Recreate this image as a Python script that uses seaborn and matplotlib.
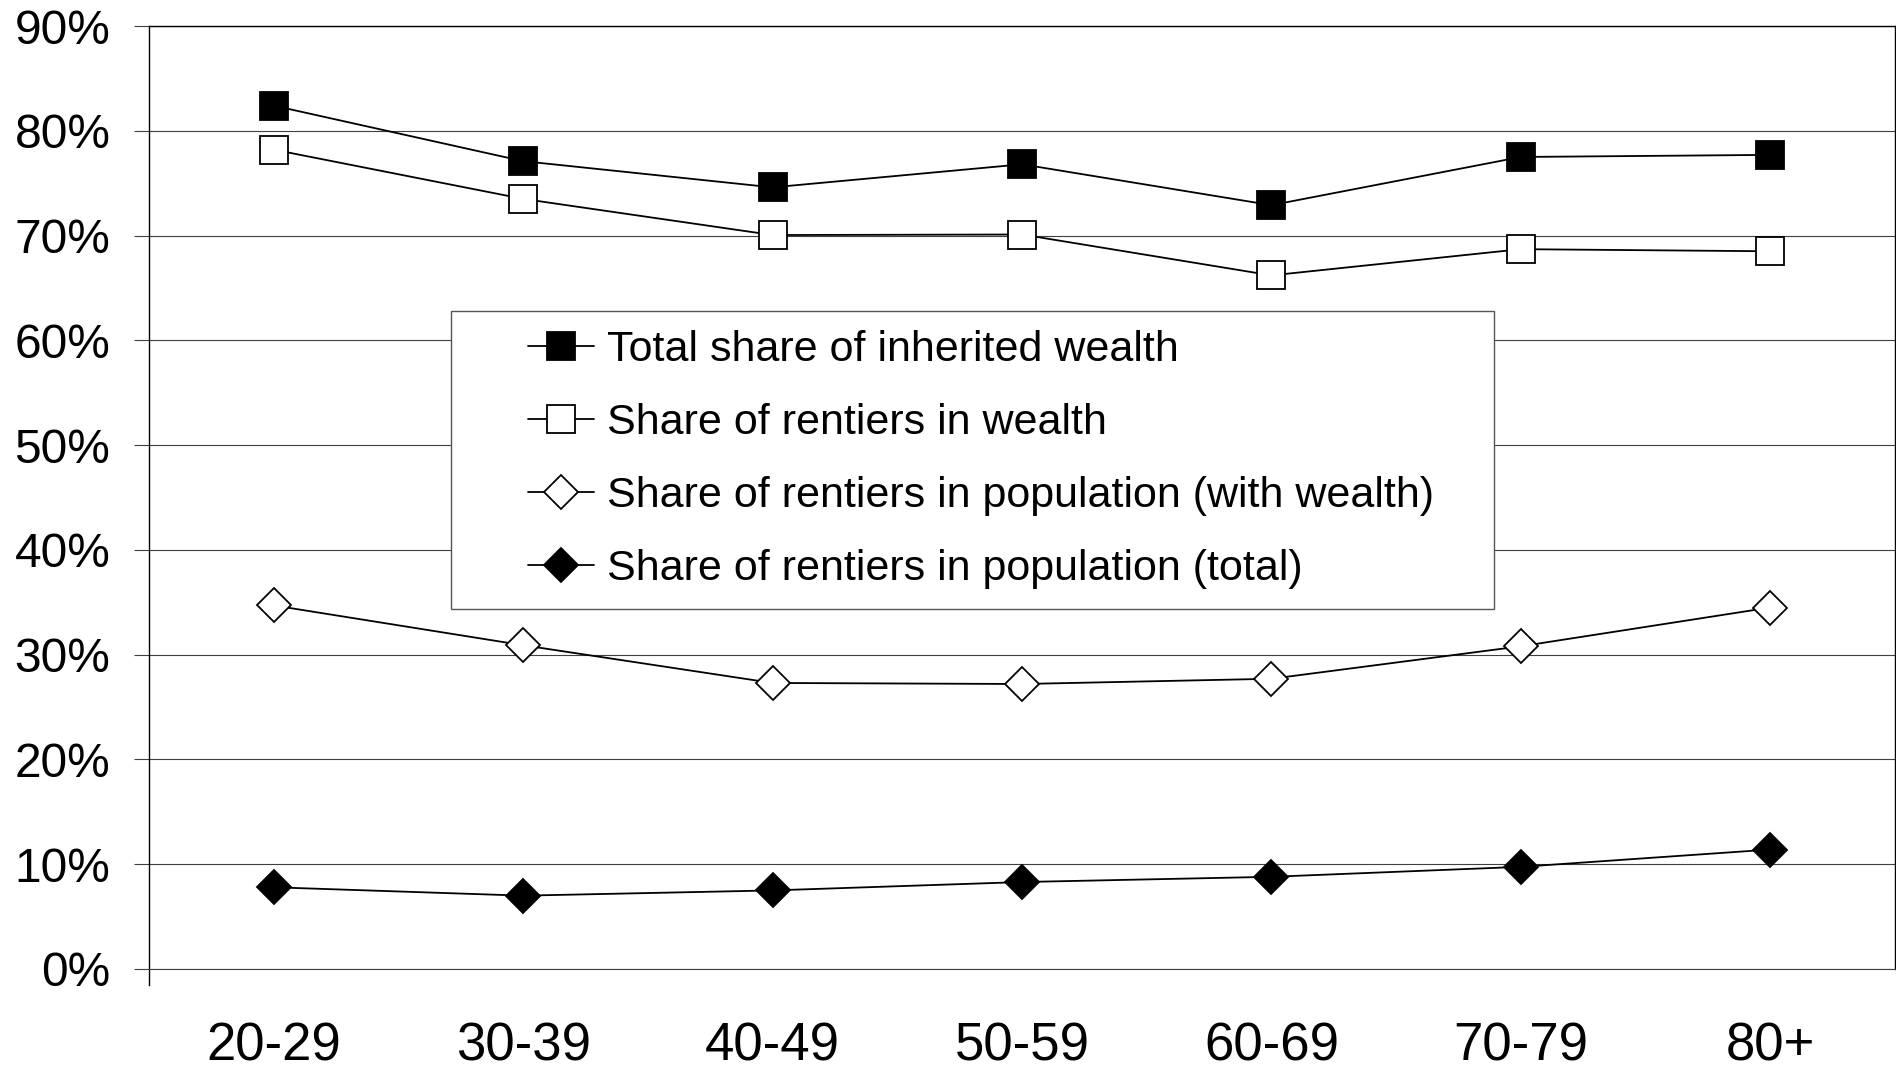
import matplotlib
matplotlib.use('Agg')
import matplotlib.pyplot as plt
from matplotlib.legend_handler import HandlerLine2D
from matplotlib.ticker import FuncFormatter, MultipleLocator
import seaborn as sns

# age groups on the x axis
age_groups = ['20-29', '30-39', '40-49', '50-59', '60-69', '70-79', '80+']

# values in percent
inherited_total = [82.4, 77.1, 74.6, 76.8, 72.9, 77.5, 77.7]
rentiers_wealth = [78.2, 73.5, 70.05, 70.1, 66.2, 68.7, 68.5]
rentiers_pop_with_wealth = [34.7, 30.9, 27.3, 27.2, 27.7, 30.8, 34.5]
rentiers_pop_total = [7.8, 7.0, 7.5, 8.3, 8.8, 9.75, 11.4]

series_names = [
    'Total share of inherited wealth',
    'Share of rentiers in wealth',
    'Share of rentiers in population (with wealth)',
    'Share of rentiers in population (total)',
]
series_values = [inherited_total, rentiers_wealth, rentiers_pop_with_wealth, rentiers_pop_total]
markers = ['s', 's', 'D', 'D']
fills = ['black', 'white', 'white', 'black']
sizes = [20, 20, 17, 17]

sns.set_style('white')
plt.rcParams['font.family'] = ['Liberation Sans', 'DejaVu Sans']
plt.rcParams['text.color'] = 'black'

W, H = 1896, 1070
fig = plt.figure(figsize=(W / 100, H / 100), dpi=100)
ax = fig.add_axes([149 / W, 1 - 969 / H, (1895 - 149) / W, (969 - 26) / H])

for name, vals, mk, fc, ms in zip(series_names, series_values, markers, fills, sizes):
    sns.lineplot(x=age_groups, y=vals, ax=ax, color='black', lw=1.3,
                 marker=mk, markersize=ms, markerfacecolor=fc,
                 markeredgecolor='black', markeredgewidth=1.3,
                 label=name, legend=False)

ax.set_xlim(-0.5, 6.5)
ax.set_ylim(0, 90)
ax.yaxis.set_major_locator(MultipleLocator(10))
ax.yaxis.set_major_formatter(FuncFormatter(lambda v, p: f'{v:.0f}%'))
ax.set_xlabel('')
ax.set_ylabel('')

ax.set_axisbelow(True)
ax.yaxis.grid(True, color='#404040', lw=0.8)
ax.xaxis.grid(False)
ax.tick_params(axis='y', length=10.8, width=0.8, color='#404040', pad=17,
               labelsize=34.5, left=True, labelcolor='black')
ax.tick_params(axis='x', length=0, pad=38, labelsize=38, labelcolor='black')

for side in ['left', 'right', 'top']:
    ax.spines[side].set_color('black')
    ax.spines[side].set_linewidth(1.0)
ax.spines['bottom'].set_color('#404040')
ax.spines['bottom'].set_linewidth(0.8)
ax.spines['left'].set_bounds(-1.53, 90)

handles, labels = ax.get_legend_handles_labels()
leg = ax.legend(handles, labels, loc='upper left',
                bbox_to_anchor=(0.173, 0.6978, 0.5974, 0), mode='expand',
                borderaxespad=0, borderpad=0.45, labelspacing=0.765,
                handlelength=2.87, handletextpad=0.3, fontsize=31,
                fancybox=False, framealpha=1, edgecolor='#555555',
                handler_map={h: HandlerLine2D(xpad=1.34) for h in handles})
leg.get_frame().set_linewidth(1.0)

fig.savefig('out.png', dpi=100)
